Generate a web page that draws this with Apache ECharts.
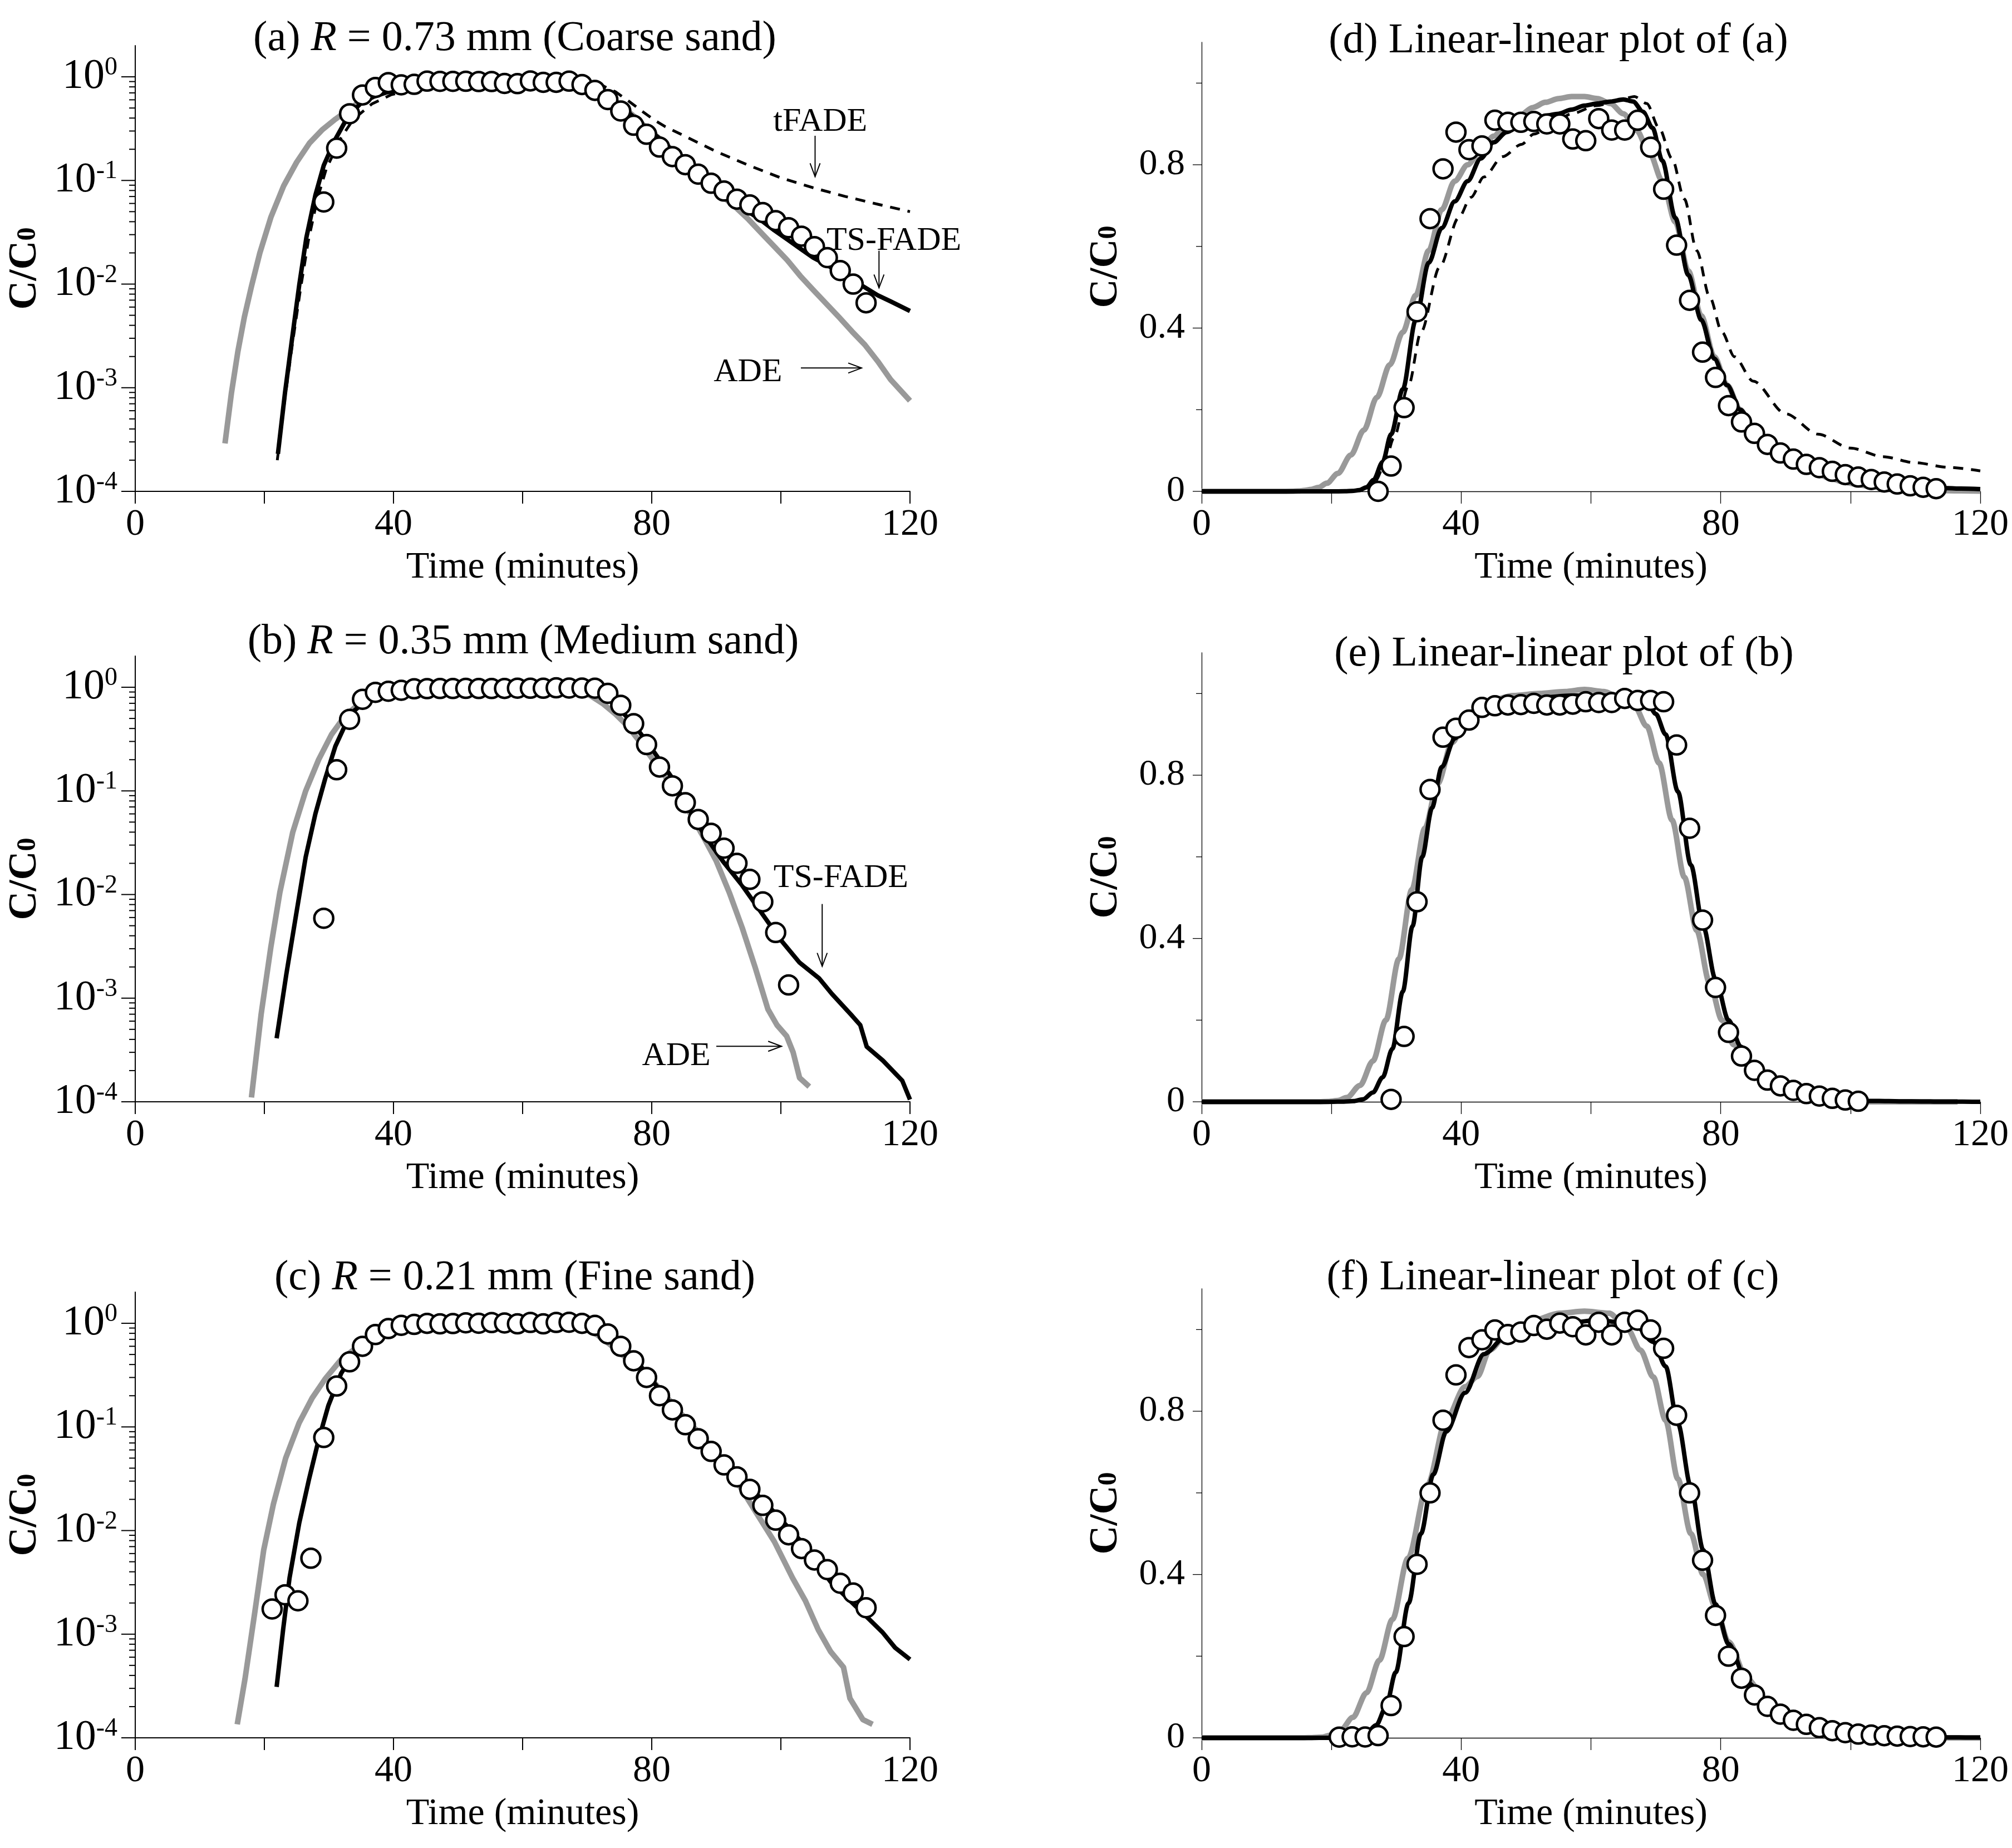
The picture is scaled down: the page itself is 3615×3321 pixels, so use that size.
<!DOCTYPE html>
<html>
<head>
<meta charset="utf-8">
<script src="https://cdn.jsdelivr.net/npm/echarts@6.0.0/dist/echarts.min.js"></script>
<style>
  html, body { margin: 0; padding: 0; background: #fff; }
  #chart { width: 3615px; height: 3321px; }
</style>
</head>
<body>
<div id="chart"></div>
<script>
// Breakthrough curves, C/C0 vs time (minutes). Pairs are [time, C/C0].

// (a)/(d) coarse sand, R = 0.73 mm
const OBS_A = [[27.2,0],[29.2,0.062],[31.2,0.205],[33.2,0.44],[35.2,0.668],[37.2,0.79],[39.2,0.88],[41.2,0.837],[43.2,0.846],[45.2,0.909],[47.2,0.904],[49.2,0.904],[51.2,0.906],[53.2,0.9],[55.2,0.9],[57.2,0.863],[59.2,0.859],[61.2,0.913],[63.2,0.885],[65.2,0.885],[67.2,0.909],[69.2,0.843],[71.2,0.74],[73.2,0.603],[75.2,0.468],[77.2,0.341],[79.2,0.279],[81.2,0.21],[83.2,0.17],[85.2,0.142],[87.2,0.115],[89.2,0.094],[91.2,0.079],[93.2,0.066],[95.2,0.058],[97.2,0.049],[99.2,0.041],[101.2,0.035],[103.2,0.029],[105.2,0.023],[107.2,0.018],[109.2,0.0135],[111.2,0.01],[113.2,0.0066]];
const ADE_A = [[0,0],[12,0.00002],[13.9,0.00029],[14.9,0.00089],[15.9,0.00224],[16.9,0.0048],[18,0.0095],[19.3,0.02],[21,0.044],[23,0.089],[25,0.15],[27,0.23],[29,0.31],[31,0.39],[33,0.48],[35,0.59],[37,0.69],[39,0.76],[41,0.8],[43,0.835],[45,0.87],[47,0.9],[49,0.92],[51,0.94],[53,0.953],[55,0.962],[57,0.967],[59,0.967],[61,0.962],[63,0.95],[65,0.925],[67,0.885],[69,0.83],[71,0.76],[73,0.66],[75,0.54],[77,0.43],[79,0.33],[81,0.26],[83,0.2],[85,0.15],[87,0.115],[89,0.09],[91,0.07],[93,0.055],[95,0.042],[97,0.031],[99,0.023],[101,0.017],[103,0.012],[105,0.0088],[107,0.0065],[109,0.0048],[111,0.0035],[113,0.0026],[115,0.0018],[117,0.0012],[120,0.00075]];
const TS_A = [[0,0],[20,0.00001],[22.1,0.00023],[23.2,0.0009],[24.3,0.003],[25.4,0.0098],[26.5,0.028],[27.9,0.072],[29.2,0.14],[31,0.25],[33,0.42],[35,0.56],[37,0.645],[39,0.71],[41,0.76],[43,0.815],[45,0.855],[47,0.88],[49,0.895],[51,0.91],[53,0.92],[55,0.925],[57,0.935],[59,0.945],[61,0.95],[63,0.955],[65,0.96],[66.5,0.955],[68,0.93],[69.5,0.89],[71,0.81],[73,0.67],[75,0.53],[77,0.42],[79,0.325],[81,0.26],[83,0.2],[85,0.16],[87,0.125],[89,0.1],[91,0.08],[93,0.063],[95,0.05],[97,0.041],[99,0.033],[101,0.027],[103,0.022],[105,0.018],[107,0.0155],[109,0.013],[111,0.011],[113,0.0093],[115,0.0078],[117,0.0068],[120,0.0055]];
const TF_A = [[0,0],[20,0.00001],[22,0.0002],[23.2,0.0008],[24.4,0.0028],[25.6,0.009],[26.8,0.026],[28.2,0.066],[29.6,0.13],[31.9,0.26],[33.8,0.39],[36.7,0.55],[39.6,0.67],[41.5,0.72],[43.5,0.77],[46.4,0.82],[49.3,0.85],[51.2,0.875],[54.1,0.9],[57,0.925],[60.9,0.945],[64.7,0.96],[66.7,0.967],[68.6,0.95],[70.5,0.89],[72.5,0.815],[74.4,0.716],[76.3,0.59],[78.3,0.476],[80.2,0.39],[82.1,0.33],[85,0.27],[90,0.19],[95,0.14],[100,0.106],[105,0.085],[110,0.07],[115,0.059],[120,0.05]];

// (b)/(e) medium sand, R = 0.35 mm
const OBS_B = [[29.2,0.0059],[31.2,0.16],[33.2,0.49],[35.2,0.765],[37.2,0.893],[39.2,0.915],[41.2,0.935],[43.2,0.966],[45.2,0.97],[47.2,0.972],[49.2,0.973],[51.2,0.976],[53.2,0.972],[55.2,0.972],[57.2,0.974],[59.2,0.98],[61.2,0.978],[63.2,0.978],[65.2,0.988],[67.2,0.983],[69.2,0.983],[71.2,0.98],[73.2,0.874],[75.2,0.67],[77.2,0.445],[79.2,0.28],[81.2,0.17],[83.2,0.112],[85.2,0.077],[87.2,0.053],[89.2,0.039],[91.2,0.028],[93.2,0.02],[95.2,0.014],[97.2,0.0085],[99.2,0.0043],[101.2,0.00134]];
const ADE_B = [[0,0],[16,0.00001],[18,0.00011],[19.5,0.0007],[21,0.0031],[22.4,0.0105],[24.4,0.04],[26.4,0.1],[28.4,0.2],[30.4,0.35],[32.4,0.52],[34.4,0.67],[36.4,0.78],[38.6,0.88],[41,0.945],[44,0.98],[48,0.995],[52,1.0],[56,1.005],[59,1.01],[62,1.005],[64.5,0.99],[66.7,0.97],[68.6,0.92],[70.5,0.83],[72.5,0.69],[74.4,0.55],[76.3,0.42],[78.3,0.29],[80.2,0.2],[82,0.14],[84,0.095],[86,0.06],[88,0.036],[90,0.021],[92,0.0105],[94,0.0048],[96,0.002],[98,0.00078],[99.4,0.00055],[100.9,0.00043],[101.9,0.0003],[102.9,0.00017],[104.4,0.00014],[105.5,0.00003],[116.5,0]];
const TS_B = [[0,0],[20,0.00001],[21.9,0.00041],[23.4,0.0017],[24.9,0.0063],[26.4,0.023],[27.9,0.06],[29.4,0.13],[31,0.27],[32.5,0.43],[34,0.6],[35.5,0.72],[37,0.82],[39,0.89],[41,0.935],[43.5,0.965],[47,0.985],[52,0.99],[57,0.995],[62,0.995],[66,0.99],[68.5,0.985],[70,0.95],[71.5,0.9],[73.4,0.76],[75.4,0.58],[77.3,0.43],[79.2,0.3],[81.2,0.2],[83.1,0.135],[85,0.08],[88,0.039],[91,0.021],[93.9,0.0125],[96.9,0.0068],[99.9,0.0037],[102.9,0.0022],[105.9,0.00156],[107.9,0.0011],[110.9,0.00069],[112.3,0.00055],[113.3,0.00034],[115.8,0.00025],[118.8,0.00016],[120,0.000105]];

// (c)/(f) fine sand, R = 0.21 mm
const OBS_C = [[21.2,0.00175],[23.2,0.0024],[25.2,0.0021],[27.2,0.0054],[29.2,0.079],[31.2,0.248],[33.2,0.425],[35.2,0.6],[37.2,0.778],[39.2,0.889],[41.2,0.956],[43.2,0.975],[45.2,0.999],[47.2,0.988],[49.2,0.994],[51.2,1.01],[53.2,1.001],[55.2,1.016],[57.2,1.007],[59.2,0.987],[61.2,1.018],[63.2,0.987],[65.2,1.018],[67.2,1.023],[69.2,0.999],[71.2,0.954],[73.2,0.79],[75.2,0.6],[77.2,0.435],[79.2,0.3],[81.2,0.2],[83.2,0.146],[85.2,0.105],[87.2,0.077],[89.2,0.058],[91.2,0.043],[93.2,0.033],[95.2,0.025],[97.2,0.0175],[99.2,0.0126],[101.2,0.0091],[103.2,0.0067],[105.2,0.0052],[107.2,0.0042],[109.2,0.0031],[111.2,0.0025],[113.2,0.0018]];
const ADE_C = [[0,0],[14,0.00001],[15.8,0.000135],[17,0.00037],[18.5,0.0016],[19.9,0.0065],[21.4,0.018],[23.3,0.05],[25.4,0.11],[27.4,0.19],[29.4,0.29],[31.8,0.44],[34.8,0.62],[37.7,0.78],[40.6,0.86],[42.5,0.885],[44.4,0.95],[47.3,0.994],[51.2,1.023],[55.1,1.04],[59,1.045],[62.8,1.04],[65.7,1.0],[67.6,0.95],[69.6,0.884],[71.5,0.778],[73.4,0.634],[75.4,0.5],[77.3,0.4],[79.2,0.32],[81.2,0.235],[84.1,0.144],[87,0.092],[90,0.055],[93,0.031],[96,0.0155],[99,0.0078],[101.8,0.0035],[103.8,0.0021],[105.8,0.0011],[107.7,0.00068],[109.7,0.00048],[110.7,0.00024],[112.7,0.00015],[114.2,0.000135],[115,0.00004],[120,0]];
const TS_C = [[0,0],[20,0.00001],[21.9,0.00031],[22.9,0.0011],[23.9,0.0035],[25.4,0.0118],[26.9,0.031],[28.4,0.075],[29.9,0.16],[31.9,0.33],[33.8,0.5],[35.7,0.645],[37.7,0.75],[40.6,0.845],[43.5,0.94],[47.3,0.99],[54,1.01],[60.9,1.023],[66.7,1.013],[69.6,0.97],[71.5,0.91],[73.4,0.77],[75.4,0.615],[77.3,0.46],[79.2,0.327],[81.2,0.23],[84.1,0.135],[87.9,0.074],[92.9,0.036],[97.8,0.018],[102.8,0.0083],[107.7,0.0032],[112.7,0.0016],[115.7,0.00105],[117.7,0.00074],[120,0.00057]];

const TITLES = [
  "(a) {i|R} = 0.73 mm (Coarse sand)",
  "(b) {i|R} = 0.35 mm (Medium sand)",
  "(c) {i|R} = 0.21 mm (Fine sand)",
  "(d) Linear-linear plot of (a)",
  "(e) Linear-linear plot of (b)",
  "(f) Linear-linear plot of (c)",
];

// arrow notes in panels (a) and (b): [grid, text, textAt, arrowFrom, arrowTo]
const NOTES = [
  [0, "tFADE", [106.1, 0.368], [105.3, 0.27], [105.3, 0.109]],
  [0, "TS-FADE", [117.5, 0.026], [115.2, 0.021], [115.2, 0.0092]],
  [0, "ADE", [94.9, 0.0014], [103.1, 0.00155], [112.5, 0.00155]],
  [1, "TS-FADE", [109.3, 0.0143], [106.4, 0.0081], [106.4, 0.00203]],
  [1, "ADE", [83.8, 0.000275], [90, 0.000343], [100.1, 0.000343]],
];

const LOG_MAJOR = [1e-4, 1e-3, 1e-2, 1e-1, 1];
const LIN_MAJOR = [0, 0.4, 0.8];
const LIN_MINOR = [0.2, 0.6, 1.0];

const FONT = "Liberation Serif";
const GRAY = "#999999";

// layout
const COL_X = [[243, 1635], [2159, 3558]];
const ROW_BOTTOM = [883, 1980, 3123];
const LOG_H = 801;
const LIN_H = 807;
const TITLE_POS = [[925, 70], [940, 1154], [925, 2297], [2800, 74], [2810, 1176], [2790, 2297]];

const panels = [
  { ade: ADE_A, ts: TS_A, tf: TF_A, obs: OBS_A },
  { ade: ADE_B, ts: TS_B, obs: OBS_B },
  { ade: ADE_C, ts: TS_C, obs: OBS_C },
];

function logMinor() {
  const out = [];
  for (let d = 0; d < 4; d++) {
    for (let k = 2; k <= 9; k++) out.push(k * LOG_MAJOR[d]);
  }
  return out;
}

const grids = [], xAxes = [], yAxes = [], series = [], titles = [];

function logLabel(v) {
  const e = Math.log10(v);
  const r = Math.round(e);
  if (Math.abs(e - r) > 1e-6) return "";
  return "{b|10}{s|" + r + "}";
}

function tickSeries(idx, majors, majorLen, minors, minorLen, width) {
  const data = majors.map((v) => [0, v, majorLen]).concat(minors.map((v) => [0, v, minorLen]));
  return {
    type: "custom",
    xAxisIndex: idx,
    yAxisIndex: idx,
    data: data,
    clip: false,
    silent: true,
    z: 10,
    renderItem: (params, api) => {
      const p = api.coord([0, api.value(1)]);
      const len = api.value(2);
      return {
        type: "line",
        shape: { x1: p[0] - len, y1: p[1], x2: p[0], y2: p[1] },
        style: { stroke: "#000", lineWidth: width },
      };
    },
  };
}

// log panels: straight segments (smoothing kinks on the steep rises)
function curve(idx, data, color, width, dash, z, isLog) {
  return {
    type: "line",
    xAxisIndex: idx,
    yAxisIndex: idx,
    data: data,
    showSymbol: false,
    symbol: "none",
    smooth: isLog ? false : 0.3,
    smoothMonotone: "x",
    clip: false,
    silent: true,
    z: z,
    lineStyle: { color: color, width: width, type: dash || "solid", cap: "butt", join: "round" },
  };
}

for (let col = 0; col < 2; col++) {
  for (let row = 0; row < 3; row++) {
    const idx = col * 3 + row;
    const isLog = col === 0;
    const h = isLog ? LOG_H : LIN_H;
    const axisW = isLog ? 2 : 1.3;
    const [x0, x1] = COL_X[col];
    grids.push({ left: x0, width: x1 - x0, top: ROW_BOTTOM[row] - h, height: h, containLabel: false, outerBoundsMode: "none" });

    xAxes.push({
      type: "value",
      gridIndex: idx,
      min: 0,
      max: 120,
      interval: 20,
      axisLine: { onZero: false, lineStyle: { color: "#000", width: axisW } },
      axisTick: { show: true, length: 22, lineStyle: { color: "#000", width: axisW } },
      axisLabel: {
        margin: 26,
        color: "#000",
        fontFamily: FONT,
        fontSize: 68,
        formatter: (v) => (v % 40 === 0 ? String(v) : ""),
      },
      splitLine: { show: false },
      name: "Time (minutes)",
      nameLocation: "middle",
      nameGap: 103,
      nameTextStyle: { color: "#000", fontFamily: FONT, fontSize: 68 },
    });

    const yName = {
      name: "{a|C/C}{b|0}",
      nameLocation: "middle",
      nameRotate: 90,
      nameGap: isLog ? 150 : 124,
      nameTextStyle: {
        color: "#000",
        fontFamily: FONT,
        rich: {
          a: { fontFamily: FONT, fontSize: 72, fontWeight: "bold", color: "#000", padding: [0, 0, 12, 0] },
          b: { fontFamily: FONT, fontSize: 48, fontWeight: "bold", color: "#000" },
        },
      },
    };

    if (isLog) {
      yAxes.push(Object.assign({
        type: "log",
        logBase: 10,
        gridIndex: idx,
        min: 1e-4,
        max: 2,
        axisLine: { show: true, onZero: false, lineStyle: { color: "#000", width: axisW } },
        axisTick: { show: false },
        minorTick: { show: false },
        splitLine: { show: false },
        axisLabel: {
          margin: 32,
          showMaxLabel: false,
          formatter: logLabel,
          rich: {
            b: { fontFamily: FONT, fontSize: 76, color: "#000" },
            s: { fontFamily: FONT, fontSize: 46, color: "#000", padding: [0, 0, 32, 0] },
          },
        },
      }, yName));
    } else {
      yAxes.push(Object.assign({
        type: "value",
        gridIndex: idx,
        min: 0,
        max: 1.1,
        interval: 0.4,
        axisLine: { show: true, onZero: false, lineStyle: { color: "#000", width: axisW } },
        axisTick: { show: false },
        splitLine: { show: false },
        axisLabel: {
          margin: 30,
          showMaxLabel: false,
          color: "#000",
          fontFamily: FONT,
          fontSize: 66,
          formatter: (v) => (v > 1.05 ? "" : String(Math.round(v * 10) / 10)),
        },
      }, yName));
    }

    const p = panels[row];
    const keep = (d) => (isLog ? d.filter((q) => q[1] >= 1e-4) : d);
    series.push(curve(idx, keep(p.ade), GRAY, 10, null, 2, isLog));
    series.push(curve(idx, keep(p.ts), "#000", 8, null, 3, isLog));
    if (p.tf) series.push(curve(idx, keep(p.tf), "#000", 5, [18, 14], 4, isLog));
    series.push({
      type: "scatter",
      xAxisIndex: idx,
      yAxisIndex: idx,
      data: isLog ? p.obs.filter((q) => q[1] > 0) : p.obs,
      symbol: "circle",
      symbolSize: 34,
      clip: false,
      silent: true,
      z: 5,
      itemStyle: { color: "#fff", borderColor: "#000", borderWidth: 4.5, opacity: 1 },
    });
    if (isLog) {
      series.push(tickSeries(idx, LOG_MAJOR, 25, logMinor(), 11, axisW));
    } else {
      series.push(tickSeries(idx, LIN_MAJOR, 16, LIN_MINOR, 10, axisW));
    }

    titles.push({
      text: TITLES[idx],
      left: TITLE_POS[idx][0],
      top: TITLE_POS[idx][1],
      textAlign: "center",
      textVerticalAlign: "middle",
      padding: 0,
      textStyle: {
        color: "#000",
        fontFamily: FONT,
        fontSize: 76,
        fontWeight: "normal",
        rich: {
          i: { fontFamily: FONT, fontSize: 76, fontStyle: "italic", color: "#000" },
        },
      },
    });
  }
}

const chart = echarts.init(document.getElementById("chart"), null, { renderer: "canvas", devicePixelRatio: 1 });
chart.setOption({
  backgroundColor: "#fff",
  animation: false,
  textStyle: { fontFamily: FONT },
  title: titles,
  grid: grids,
  xAxis: xAxes,
  yAxis: yAxes,
  series: series,
});

// arrows and labels placed from data coordinates
const graphics = [];
NOTES.forEach(([g, text, at, from, to]) => {
  const finder = { xAxisIndex: g, yAxisIndex: g };
  const t = chart.convertToPixel(finder, at);
  const a = chart.convertToPixel(finder, from);
  const b = chart.convertToPixel(finder, to);
  graphics.push({
    type: "text",
    x: t[0],
    y: t[1],
    style: { text: text, fill: "#000", fontFamily: FONT, fontSize: 60, align: "center", verticalAlign: "middle" },
  });
  graphics.push({
    type: "polyline",
    shape: { points: [a, b] },
    style: { stroke: "#000", lineWidth: 2, fill: null },
  });
  const dx = b[0] - a[0], dy = b[1] - a[1];
  const len = Math.hypot(dx, dy) || 1;
  const ux = dx / len, uy = dy / len;
  const head = 24, half = 9;
  graphics.push({
    type: "polyline",
    shape: {
      points: [
        [b[0] - ux * head - uy * half, b[1] - uy * head + ux * half],
        b,
        [b[0] - ux * head + uy * half, b[1] - uy * head - ux * half],
      ],
    },
    style: { stroke: "#000", lineWidth: 2, fill: null },
  });
});
chart.setOption({ graphic: graphics });
</script>
</body>
</html>
